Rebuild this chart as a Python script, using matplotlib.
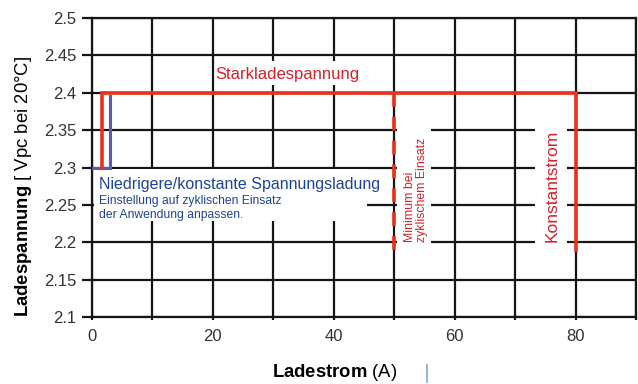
import matplotlib
matplotlib.use('Agg')
import matplotlib.pyplot as plt
from matplotlib.patches import Rectangle
from matplotlib.lines import Line2D

plt.rcParams['font.family'] = ['Liberation Sans', 'DejaVu Sans']
plt.rcParams['mathtext.fontset'] = 'custom'
plt.rcParams['mathtext.bf'] = 'Liberation Sans:bold'
plt.rcParams['mathtext.rm'] = 'Liberation Sans'

# charge profile (A, V per cell)
strong_x = [1.6, 1.6, 80, 80]
strong_y = [2.3, 2.4, 2.4, 2.19]
low_x = [0, 3, 3]
low_y = [2.3, 2.3, 2.395]
min_x = [50, 50]
min_y = [2.4, 2.19]

xticks = [0, 20, 40, 60, 80]
yticks = [2.1, 2.15, 2.2, 2.25, 2.3, 2.35, 2.4, 2.45, 2.5]
ytick_labels = ['2.1', '2.15', '2.2', '2.25', '2.3', '2.35', '2.4', '2.45', '2.5']

red = '#e8321e'
red_txt = '#d7202a'
blue = '#5b5bb5'
blue_txt = '#1d4496'
grid_c = '#151515'

fig = plt.figure(figsize=(6.38, 3.84), dpi=100)
ax = fig.add_axes([0.1442, 0.1745, 0.8527, 0.7786])
ax.set_xlim(0, 90)
ax.set_ylim(2.1, 2.5)
ax.set_xticks(xticks)
ax.set_xticks(range(0, 91, 10), minor=True)
ax.set_yticks(yticks)
ax.set_yticklabels(ytick_labels)
ax.grid(True, which='both', color=grid_c, lw=1.6)
ax.set_axisbelow(True)
for s in ax.spines.values():
    s.set_color(grid_c)
    s.set_linewidth(1.6)
ax.tick_params(axis='y', length=7, width=1.6, color=grid_c, pad=4,
               labelsize=12, labelcolor='#333333')
ax.tick_params(axis='x', which='both', length=2, width=1.6, color=grid_c, pad=7,
               labelsize=12, labelcolor='#333333')

# white boxes hiding the grid behind annotations
for (x0, y0, w, h) in [(0.3, 2.228, 45.2, 0.07), (50.4, 2.19, 5.6, 0.168),
                       (73.3, 2.19, 5.3, 0.168), (24.5, 2.41, 16, 0.032)]:
    ax.add_patch(Rectangle((x0, y0), w, h, facecolor='white', edgecolor='none', zorder=1))

ax.plot(low_x, low_y, color=blue, lw=2.2, zorder=3, solid_joinstyle='miter')
ax.plot(strong_x, strong_y, color=red, lw=2.6, zorder=4, solid_joinstyle='miter')
ax.plot(min_x, min_y, color=red, lw=2.6, zorder=4, dashes=(3.8, 2.8))

ax.text(32.3, 2.425, 'Starkladespannung', color=red_txt, fontsize=12,
        ha='center', va='center', zorder=5)
ax.text(1.2, 2.277, 'Niedrigere/konstante Spannungsladung', color=blue_txt,
        fontsize=11.5, ha='left', va='center', zorder=5)
ax.text(1.2, 2.246, 'Einstellung auf zyklischen Einsatz\nder Anwendung anpassen.',
        color=blue_txt, fontsize=8.7, ha='left', va='center', linespacing=1.15, zorder=5)
ax.text(53.6, 2.2, 'Minimum bei\nzyklischem Einsatz', color=red_txt, fontsize=8.8,
        rotation=90, ha='center', va='bottom', multialignment='left',
        linespacing=1.1, zorder=5)
ax.text(76.2, 2.2, 'Konstantstrom', color=red_txt, fontsize=12.5,
        rotation=90, ha='center', va='bottom', zorder=5)

fig.text(0.525, 0.029, r'$\mathbf{Ladestrom}$ (A)', fontsize=13.3,
         ha='center', va='center')
fig.text(0.037, 0.514, r'$\mathbf{Ladespannung}$ [ Vpc bei 20°C]', fontsize=13.3,
         rotation=90, ha='center', va='center')
fig.add_artist(Line2D([0.67, 0.67], [0.005, 0.05], color='#7fa7d8', lw=1.2))

fig.savefig('out.png', dpi=100)
